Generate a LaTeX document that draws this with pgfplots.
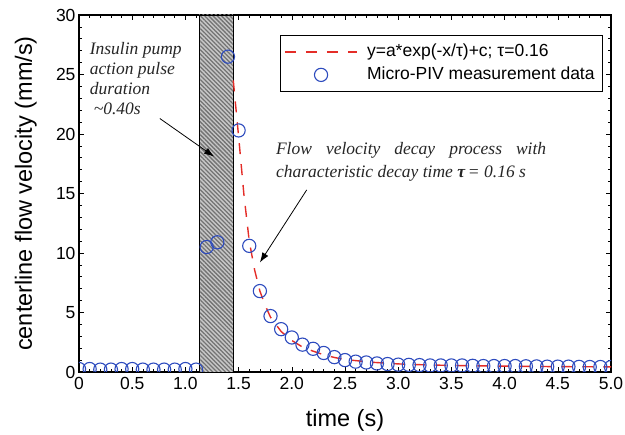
\documentclass[border=0pt]{standalone}
\usepackage{pgfplots}
\pgfplotsset{compat=1.18}
\usepackage{fontspec}
\setmainfont{Liberation Sans}
\newfontfamily\serif{Liberation Serif}
\usetikzlibrary{patterns.meta,arrows.meta}

\definecolor{fitred}{RGB}{228,45,40}
\definecolor{pivblue}{RGB}{45,75,190}

\pgfplotsset{
    longline legend/.style={legend image code/.code={\draw[##1] (0cm,0cm) -- (2.55cm,0cm);}},
    longmark legend/.style={legend image code/.code={\draw[##1,mark repeat=2,mark phase=2]
        plot coordinates {(0cm,0cm)(1.275cm,0cm)(2.55cm,0cm)};}},
}

\begin{document}
\begin{tikzpicture}
\begin{axis}[
    name=ax,
    scale only axis,
    width=532pt, height=357pt,
    xmin=0, xmax=5, ymin=0, ymax=30,
    xtick={0,0.5,...,5},
    xticklabels={0,0.5,1.0,1.5,2.0,2.5,3.0,3.5,4.0,4.5,5.0},
    ytick={0,5,...,30},
    minor x tick num=4, minor y tick num=4,
    tick align=inside,
    major tick length=5pt, minor tick length=3pt,
    axis line style={line width=1.2pt},
    every tick/.style={black, line width=0.6pt},
    tick label style={font=\fontsize{17.5}{20}\selectfont},
    xticklabel style={yshift=-2pt},
    /pgf/number format/assume math mode=true,
    xlabel={time (s)},
    ylabel={centerline flow velocity (mm/s)},
    label style={font=\fontsize{23.5}{27}\selectfont},
    xlabel style={at={([yshift=-55pt]axis description cs:0.5,0)}, anchor=base},
    ylabel style={at={([xshift=-47pt]axis description cs:0,0.5)}, anchor=base},
    clip marker paths=true,
    legend style={at={(0.985,0.944)}, anchor=north east,
        draw=black, line width=0.8pt, font=\fontsize{17.5}{20}\selectfont,
        inner xsep=4pt, inner ysep=6pt, row sep=2pt, column sep=5pt,
        nodes={inner xsep=4pt, inner ysep=2pt, text height=13pt, text depth=4pt}},
    legend cell align=left,
]
% pulse band
\addplot[draw=black, line width=0.8pt, fill=black!22,
    postaction={pattern={Lines[angle=-45, distance=3pt, line width=1.3pt]},
                pattern color=black!55},
    forget plot]
    coordinates {(1.128,0) (1.128,30) (1.447,30) (1.447,0)} -- cycle;

% exponential fit
\addplot[fitred, line width=1.4pt, dash pattern=on 11pt off 10pt, longline legend]
coordinates {
(1.45,24.5)(1.50,19.8)(1.55,14.9)(1.60,11.0)(1.65,8.6)(1.70,6.8)
(1.75,5.6)(1.80,4.6)(1.90,3.4)(2.00,2.65)(2.10,2.1)(2.20,1.75)
(2.30,1.45)(2.40,1.22)(2.50,1.05)(2.75,0.82)(3.00,0.68)(3.25,0.6)
(3.50,0.55)(4.00,0.49)(4.50,0.45)(5.00,0.43)};
\addlegendentry{y=a*exp(-x/τ)+c; τ=0.16}

% measurements
\addplot[only marks, mark=o, mark size=6.6pt, pivblue,
    mark options={line width=1.1pt}, longmark legend]
coordinates {
(0.0,0.25)(0.1,0.25)(0.2,0.2)(0.3,0.2)(0.4,0.25)(0.5,0.25)(0.6,0.2)
(0.7,0.2)(0.8,0.2)(0.9,0.2)(1.0,0.25)(1.1,0.2)
(1.2,10.5)(1.3,10.9)(1.4,26.5)(1.5,20.3)(1.6,10.6)(1.7,6.8)(1.8,4.7)
(1.9,3.6)(2.0,2.9)(2.1,2.3)(2.2,1.95)(2.3,1.6)(2.4,1.25)(2.5,1.0)
(2.6,0.87)(2.7,0.8)(2.8,0.72)(2.9,0.67)(3.0,0.62)(3.1,0.6)(3.2,0.58)
(3.3,0.55)(3.4,0.55)(3.5,0.55)(3.6,0.55)(3.7,0.52)(3.8,0.5)(3.9,0.5)
(4.0,0.5)(4.1,0.5)(4.2,0.48)(4.3,0.47)(4.4,0.45)(4.5,0.45)(4.6,0.45)
(4.7,0.43)(4.8,0.42)(4.9,0.42)(5.0,0.42)};
\addlegendentry{Micro-PIV measurement data}

% annotations
\node[anchor=north west, align=left, inner sep=0pt, text=black!85,
    font=\serif\itshape\fontsize{17.5}{20}\selectfont]
    at (axis cs:0.1,27.7) {Insulin pump\\action pulse\\duration\\\hspace*{4pt}\textasciitilde0.40s};
\draw[-{Latex[length=10pt,width=7pt]}, line width=0.8pt]
    (axis cs:0.76,21.3) -- (axis cs:1.27,18.1);

\node[anchor=north west, align=left, inner sep=0pt, text=black!85,
    font=\serif\itshape\fontsize{17.5}{23}\selectfont]
    at (axis cs:1.85,19.3) {Flow\hspace{0.8em}velocity\hspace{0.8em}decay\hspace{0.8em}process\hspace{0.8em}with\\characteristic decay time \textbf{τ}\,= 0.16 s};
\draw[-{Latex[length=10pt,width=7pt]}, line width=0.8pt]
    (axis cs:2.14,15.3) -- (axis cs:1.70,9.2);
\end{axis}
\pgfresetboundingbox
\path[use as bounding box] ([xshift=-79pt,yshift=-63pt]ax.south west)
    rectangle ([xshift=14pt,yshift=15pt]ax.north east);
\end{tikzpicture}
\end{document}
